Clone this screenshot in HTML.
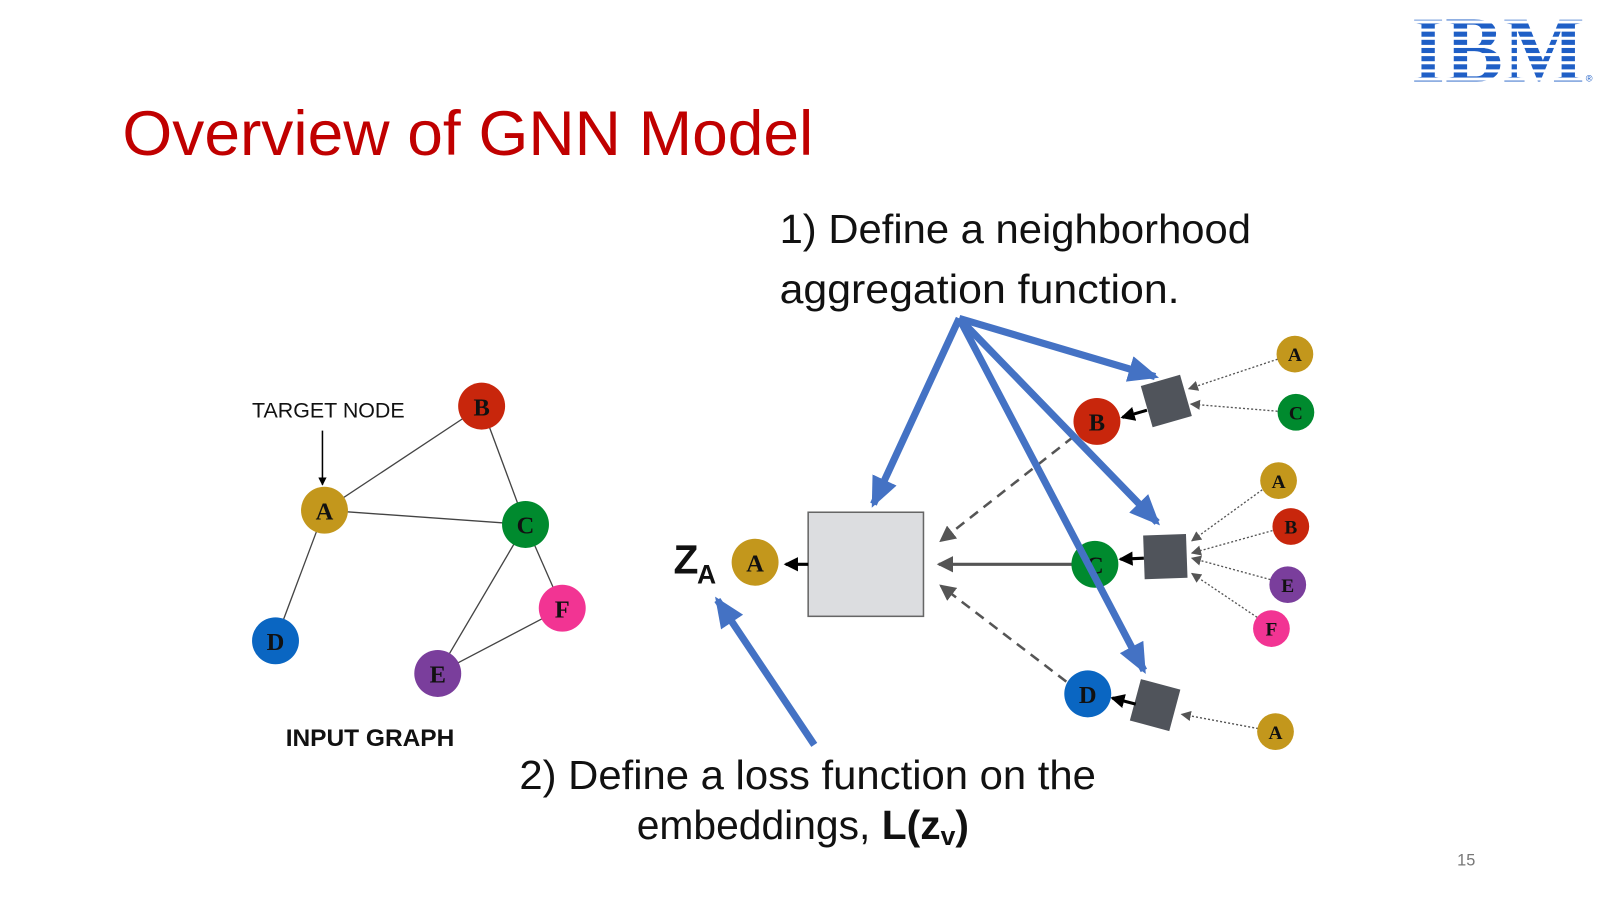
<!DOCTYPE html>
<html><head><meta charset="utf-8"><style>
html,body{margin:0;padding:0;background:#fff;}
svg{display:block;}
</style></head><body>
<svg width="1600" height="900" viewBox="0 0 1568 882" preserveAspectRatio="none" xmlns="http://www.w3.org/2000/svg">
<defs>
<marker id="bk" markerWidth="8" markerHeight="8" refX="7" refY="4" orient="auto" markerUnits="userSpaceOnUse"><path d="M0,0 L8,4 L0,8 z" fill="#000"/></marker>
<marker id="bk2" markerWidth="14" markerHeight="14" refX="12" refY="7" orient="auto" markerUnits="userSpaceOnUse"><path d="M0,0 L14,7 L0,14 z" fill="#000"/></marker>
<marker id="gy" markerWidth="16" markerHeight="16" refX="14" refY="8" orient="auto" markerUnits="userSpaceOnUse"><path d="M0,0 L16,8 L0,16 z" fill="#555"/></marker>
<marker id="gs" markerWidth="10" markerHeight="10" refX="9" refY="5" orient="auto" markerUnits="userSpaceOnUse"><path d="M0,0 L10,5 L0,10 z" fill="#555"/></marker>
<marker id="bl" markerWidth="30" markerHeight="26" refX="26" refY="13" orient="auto" markerUnits="userSpaceOnUse"><path d="M0,0 L30,13 L0,26 z" fill="#4472c4"/></marker>
</defs>

<!-- IBM logo -->
<text x="1383" y="80" font-family="Liberation Serif, serif" font-weight="bold" font-size="92" fill="#1f5fc6" textLength="170" lengthAdjust="spacingAndGlyphs">IBM</text>
<g fill="#fff">
<rect x="1380" y="20" width="180" height="3"/><rect x="1380" y="28" width="180" height="3"/>
<rect x="1380" y="36" width="180" height="3"/><rect x="1380" y="44" width="180" height="3"/>
<rect x="1380" y="52" width="180" height="3"/><rect x="1380" y="60" width="180" height="3"/>
<rect x="1380" y="68" width="180" height="3"/><rect x="1380" y="76" width="180" height="3"/>
</g>
<text x="1554" y="80" font-family="Liberation Sans, sans-serif" font-size="9" fill="#1f5fc6">®</text>

<!-- Title -->
<text x="120" y="152" font-family="Liberation Sans, sans-serif" font-size="62" fill="#c00000" textLength="677" lengthAdjust="spacingAndGlyphs">Overview of GNN Model</text>

<!-- Left graph edges -->
<g stroke="#444" stroke-width="1.3">
<line x1="318" y1="500" x2="472" y2="398"/><line x1="318" y1="500" x2="515" y2="514"/>
<line x1="472" y1="398" x2="515" y2="514"/><line x1="318" y1="500" x2="270" y2="628"/>
<line x1="515" y1="514" x2="429" y2="660"/><line x1="515" y1="514" x2="551" y2="596"/>
<line x1="429" y1="660" x2="551" y2="596"/>
</g>
<text x="247" y="409" font-family="Liberation Sans, sans-serif" font-size="21" fill="#111">TARGET NODE</text>
<line x1="316" y1="422" x2="316" y2="475" stroke="#000" stroke-width="1.5" marker-end="url(#bk)"/>
<text x="280" y="731" font-family="Liberation Sans, sans-serif" font-weight="bold" font-size="24" fill="#111">INPUT GRAPH</text>

<!-- Right structure lines -->
<line x1="1052" y1="428" x2="922" y2="530" stroke="#555" stroke-width="2.5" stroke-dasharray="10,7" marker-end="url(#gy)"/>
<line x1="1052" y1="553" x2="920" y2="553" stroke="#555" stroke-width="3" marker-end="url(#gy)"/>
<line x1="1045" y1="668" x2="922" y2="574" stroke="#555" stroke-width="2.5" stroke-dasharray="10,7" marker-end="url(#gy)"/>

<g stroke="#555" stroke-width="1.3" stroke-dasharray="2,2">
<line x1="1252" y1="352" x2="1165" y2="381" marker-end="url(#gs)"/>
<line x1="1252" y1="403" x2="1167" y2="396" marker-end="url(#gs)"/>
<line x1="1237" y1="480" x2="1168" y2="530" marker-end="url(#gs)"/>
<line x1="1247" y1="520" x2="1168" y2="542" marker-end="url(#gs)"/>
<line x1="1245" y1="568" x2="1168" y2="547" marker-end="url(#gs)"/>
<line x1="1232" y1="605" x2="1168" y2="562" marker-end="url(#gs)"/>
<line x1="1233" y1="714" x2="1158" y2="700" marker-end="url(#gs)"/>
</g>

<!-- gray box -->
<rect x="792" y="502" width="113" height="102" fill="#dcdde0" stroke="#666" stroke-width="1.5"/>
<line x1="792" y1="553" x2="770" y2="553" stroke="#000" stroke-width="3" marker-end="url(#bk2)"/>

<!-- dark squares -->
<rect x="1123" y="372" width="40" height="42" fill="#50545b" transform="rotate(-16 1143 393)"/>
<rect x="1121" y="524" width="42" height="43" fill="#50545b" transform="rotate(-2 1142 545)"/>
<rect x="1112" y="670" width="40" height="42" fill="#50545b" transform="rotate(15 1132 691)"/>
<line x1="1124" y1="402" x2="1100" y2="409" stroke="#000" stroke-width="3" marker-end="url(#bk2)"/>
<line x1="1121" y1="547" x2="1098" y2="548" stroke="#000" stroke-width="3" marker-end="url(#bk2)"/>
<line x1="1113" y1="690" x2="1090" y2="684" stroke="#000" stroke-width="3" marker-end="url(#bk2)"/>

<!-- nodes -->
<g font-family="Liberation Serif, serif" font-weight="bold" text-anchor="middle" fill="#111">
<circle cx="472" cy="398" r="23" fill="#c8260c"/><text x="472" y="407" font-size="24">B</text>
<circle cx="318" cy="500" r="23" fill="#c3971c"/><text x="318" y="509" font-size="24">A</text>
<circle cx="515" cy="514" r="23" fill="#008a2e"/><text x="515" y="523" font-size="24">C</text>
<circle cx="551" cy="596" r="23" fill="#f23493"/><text x="551" y="605" font-size="24">F</text>
<circle cx="270" cy="628" r="23" fill="#0a66c2"/><text x="270" y="637" font-size="24">D</text>
<circle cx="429" cy="660" r="23" fill="#7a3e9c"/><text x="429" y="669" font-size="24">E</text>

<circle cx="740" cy="551" r="23" fill="#c3971c"/><text x="740" y="560" font-size="24">A</text>
<circle cx="1075" cy="413" r="23" fill="#c8260c"/><text x="1075" y="422" font-size="24">B</text>
<circle cx="1073" cy="553" r="23" fill="#008a2e"/><text x="1073" y="562" font-size="24">C</text>
<circle cx="1066" cy="680" r="23" fill="#0a66c2"/><text x="1066" y="689" font-size="24">D</text>

<circle cx="1269" cy="347" r="18" fill="#c3971c"/><text x="1269" y="354" font-size="19">A</text>
<circle cx="1270" cy="404" r="18" fill="#008a2e"/><text x="1270" y="411" font-size="19">C</text>
<circle cx="1253" cy="471" r="18" fill="#c3971c"/><text x="1253" y="478" font-size="19">A</text>
<circle cx="1265" cy="516" r="18" fill="#c8260c"/><text x="1265" y="523" font-size="19">B</text>
<circle cx="1262" cy="573" r="18" fill="#7a3e9c"/><text x="1262" y="580" font-size="19">E</text>
<circle cx="1246" cy="616" r="18" fill="#f23493"/><text x="1246" y="623" font-size="19">F</text>
<circle cx="1250" cy="717" r="18" fill="#c3971c"/><text x="1250" y="724" font-size="19">A</text>
</g>

<!-- blue arrows -->
<g stroke="#4472c4" stroke-width="7" fill="none">
<line x1="940" y1="312" x2="856" y2="494" marker-end="url(#bl)"/>
<line x1="940" y1="312" x2="1132" y2="369" marker-end="url(#bl)"/>
<line x1="940" y1="312" x2="1134" y2="512" marker-end="url(#bl)"/>
<line x1="940" y1="312" x2="1121" y2="657" marker-end="url(#bl)"/>
<line x1="798" y1="730" x2="703" y2="588" marker-end="url(#bl)"/>
</g>

<!-- Z_A -->
<text x="660" y="562" font-family="Liberation Sans, sans-serif" font-weight="bold" font-size="40" fill="#111">Z</text>
<text x="683" y="572" font-family="Liberation Sans, sans-serif" font-weight="bold" font-size="26" fill="#111">A</text>

<!-- texts -->
<g font-family="Liberation Sans, sans-serif" font-size="40" fill="#111">
<text x="764" y="238" textLength="462" lengthAdjust="spacingAndGlyphs">1) Define a neighborhood</text>
<text x="764" y="297" textLength="392" lengthAdjust="spacingAndGlyphs">aggregation function.</text>
<text x="509" y="773" textLength="565" lengthAdjust="spacingAndGlyphs">2) Define a loss function on the</text>
<text x="624" y="822">embeddings, <tspan font-weight="bold">L(z<tspan font-size="26" dy="6">v</tspan><tspan dy="-6">)</tspan></tspan></text>
</g>
<text x="1428" y="848" font-family="Liberation Sans, sans-serif" font-size="16" fill="#777">15</text>
</svg>
</body></html>
